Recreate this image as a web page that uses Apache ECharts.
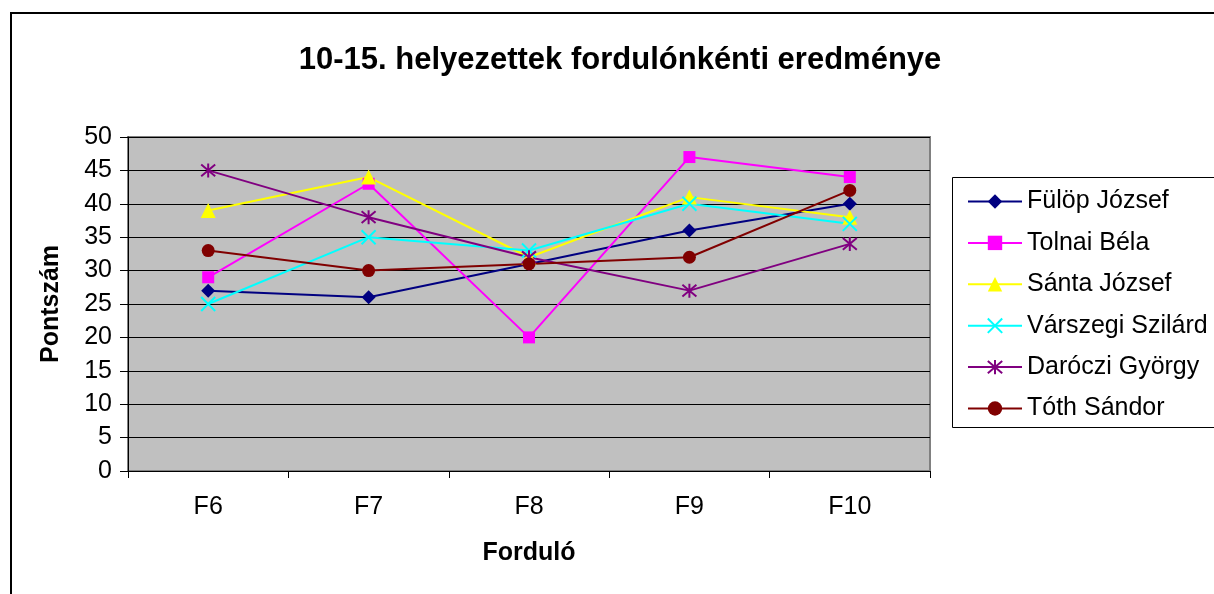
<!DOCTYPE html>
<html>
  <head>
    <meta charset="utf-8" />
    <title>10-15. helyezettek fordulónkénti eredménye</title>
    <style>
      html, body { margin: 0; padding: 0; background: #fff; }
      #main { width: 1214px; height: 594px; }
    </style>
  </head>
  <body>
    <div id="main"></div>
    <script src="https://cdn.jsdelivr.net/npm/echarts@6/dist/echarts.min.js"></script>
    <script>
      // fordulók
      var rounds = ["F6", "F7", "F8", "F9", "F10"];
      var players = ["Fülöp József", "Tolnai Béla", "Sánta József", "Várszegi Szilárd", "Daróczi György", "Tóth Sándor"];
      var fulop = [27, 26, 31, 36, 40];
      var tolnai = [29, 43, 20, 47, 44];
      var santa = [39, 44, 32, 41, 38];
      var varszegi = [25, 35, 33, 40, 37];
      var daroczi = [45, 38, 32, 27, 34];
      var toth = [33, 30, 31, 32, 42];

      var colors = ["#000080", "#FF00FF", "#FFFF00", "#00FFFF", "#800080", "#800000"];
      var symbols = [
        "diamond",
        "rect",
        "triangle",
        "path://M0,0L10,10M10,0L0,10",
        "path://M5,0L5,10M0.8,0.8L9.2,9.2M9.2,0.8L0.8,9.2",
        "circle",
      ];
      var sizes = [14, 12, 15, 14, 14, 13];
      var values = [fulop, tolnai, santa, varszegi, daroczi, toth];

      var series = [];
      for (var i = 0; i < players.length; i++) {
        var isPath = symbols[i].indexOf("path://") === 0;
        series.push({
          name: players[i],
          type: "line",
          data: values[i],
          symbol: symbols[i],
          symbolSize: sizes[i],
          showAllSymbol: true,
          lineStyle: { color: colors[i], width: 2 },
          itemStyle: isPath
            ? { color: colors[i], borderColor: colors[i], borderWidth: 2 }
            : { color: colors[i], borderWidth: 0 },
          emphasis: { disabled: true },
          animation: false,
        });
      }

      var myChart = echarts.init(document.getElementById("main"));
      var option = {
        animation: false,
        title: {
          text: "10-15. helyezettek fordulónkénti eredménye",
          left: 615,
          top: 40,
          textAlign: "center",
          textStyle: { fontFamily: "Liberation Sans", fontSize: 31, fontWeight: "bold", color: "#000" },
        },
        graphic: [
          {
            type: "rect",
            shape: { x: 11, y: 13, width: 1220, height: 600 },
            style: { fill: "none", stroke: "#000", lineWidth: 2 },
            silent: true,
          },
          {
            type: "rect",
            shape: { x: 952.5, y: 177.5, width: 280, height: 250 },
            style: { fill: "#fff", stroke: "#000", lineWidth: 1 },
            silent: true,
            z: 0,
          },
        ],
        legend: {
          data: players,
          orient: "vertical",
          left: 962,
          top: 184,
          itemWidth: 54,
          itemHeight: 18,
          itemGap: 16.4,
          textStyle: { fontFamily: "Liberation Sans", fontSize: 25, color: "#000" },
          selectedMode: false,
          z: 5,
        },
        grid: {
          left: 128,
          right: 284,
          top: 137,
          bottom: 123,
          show: true,
          backgroundColor: "#C0C0C0",
          borderColor: "#808080",
          borderWidth: 2,
        },
        xAxis: {
          type: "category",
          data: rounds,
          boundaryGap: true,
          name: "Forduló",
          nameLocation: "middle",
          nameGap: 70,
          nameTextStyle: { fontFamily: "Liberation Sans", fontSize: 25, fontWeight: "bold", color: "#000" },
          axisLine: { lineStyle: { color: "#000", width: 1 } },
          axisTick: { show: true, inside: false, length: 7, lineStyle: { color: "#000" } },
          axisLabel: { fontFamily: "Liberation Sans", fontSize: 25, color: "#000", margin: 24 },
        },
        yAxis: {
          type: "value",
          min: 0,
          max: 50,
          interval: 5,
          name: "Pontszám",
          nameLocation: "middle",
          nameGap: 64,
          nameTextStyle: { fontFamily: "Liberation Sans", fontSize: 25, fontWeight: "bold", color: "#000" },
          axisLine: { show: true, lineStyle: { color: "#000", width: 1 } },
          axisTick: { show: true, inside: false, length: 8, lineStyle: { color: "#000" } },
          axisLabel: { fontFamily: "Liberation Sans", fontSize: 25, color: "#000", margin: 16 },
          splitLine: { show: true, lineStyle: { color: "#000", width: 1 } },
        },
        series: series,
      };
      myChart.setOption(option);
    </script>
  </body>
</html>
